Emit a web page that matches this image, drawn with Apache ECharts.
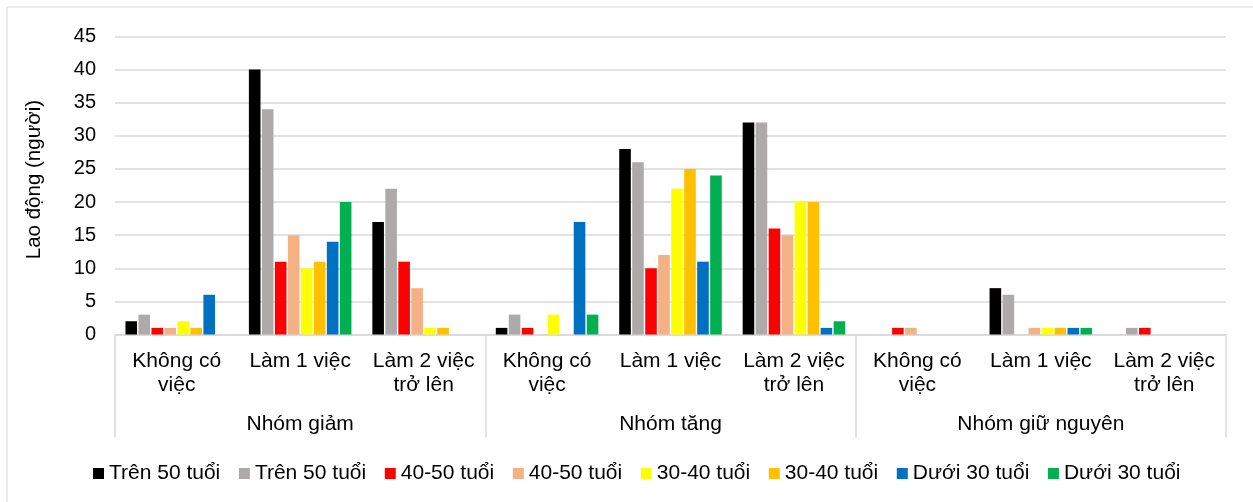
<!DOCTYPE html>
<html>
<head>
<meta charset="utf-8">
<script src="https://cdn.jsdelivr.net/npm/echarts@6/dist/echarts.min.js"></script>
<style>
  html, body { margin: 0; padding: 0; background: #ffffff; }
  #chart { width: 1253px; height: 502px; }
</style>
</head>
<body>
<div id="chart"></div>
<script>
// Work situation categories, repeated inside each change group
const subCategories = [
  'Không có\nviệc', 'Làm 1 việc', 'Làm 2 việc\ntrở lên',
  'Không có\nviệc', 'Làm 1 việc', 'Làm 2 việc\ntrở lên',
  'Không có\nviệc', 'Làm 1 việc', 'Làm 2 việc\ntrở lên'
];
const groups = ['Nhóm giảm', 'Nhóm tăng', 'Nhóm giữ nguyên'];

// Number of workers per age band (two columns per band)
const tren50A = [2, 40, 17, 1, 28, 32, 0, 7, 0];
const tren50B = [3, 34, 22, 3, 26, 32, 0, 6, 1];
const t4050A  = [1, 11, 11, 1, 10, 16, 1, 0, 1];
const t4050B  = [1, 15, 7, 0, 12, 15, 1, 1, 0];
const t3040A  = [2, 10, 1, 3, 22, 20, 0, 1, 0];
const t3040B  = [1, 11, 1, 0, 25, 20, 0, 1, 0];
const duoi30A = [6, 14, 0, 17, 11, 1, 0, 1, 0];
const duoi30B = [0, 20, 0, 3, 24, 2, 0, 1, 0];

const yTicks = { min: 0, max: 45, interval: 5 };

const seriesDefs = [
  { name: 'Trên 50 tuổi', data: tren50A, color: '#000000' },
  { name: 'Trên 50 tuổi ', data: tren50B, color: '#AEAAAA' },
  { name: '40-50 tuổi', data: t4050A, color: '#FF0000' },
  { name: '40-50 tuổi ', data: t4050B, color: '#F4B183' },
  { name: '30-40 tuổi', data: t3040A, color: '#FFFF00' },
  { name: '30-40 tuổi ', data: t3040B, color: '#FFC000' },
  { name: 'Dưới 30 tuổi', data: duoi30A, color: '#0070C0' },
  { name: 'Dưới 30 tuổi ', data: duoi30B, color: '#00B050' }
];

const FONT = '"Liberation Sans", Arial, sans-serif';
const gridLeft = 115, gridRight = 1226, gridTop = 36.5, gridBottom = 334.5;

const chart = echarts.init(document.getElementById('chart'), null, { renderer: 'canvas' });

chart.setOption({
  animation: false,
  backgroundColor: '#ffffff',
  textStyle: { fontFamily: FONT },
  graphic: [{
    type: 'rect',
    shape: { x: 7, y: 7, width: 1270, height: 520 },
    style: { fill: 'none', stroke: '#d9d9d9', lineWidth: 1 },
    silent: true
  }],
  legend: {
    left: 88,
    top: 458,
    itemWidth: 11,
    itemHeight: 11,
    itemGap: 18.6,
    icon: 'rect',
    textStyle: { fontFamily: FONT, fontSize: 21, color: '#000000' },
    data: seriesDefs.map(s => s.name),
    formatter: n => n.trim()
  },
  grid: {
    left: gridLeft,
    top: gridTop,
    width: gridRight - gridLeft,
    height: gridBottom - gridTop,
    containLabel: false
  },
  xAxis: [
    {
      type: 'category',
      data: subCategories,
      position: 'bottom',
      axisLine: { show: true, lineStyle: { color: '#d9d9d9', width: 1.5 } },
      axisTick: { show: false },
      axisLabel: {
        interval: 0,
        margin: 15,
        fontFamily: FONT,
        fontSize: 21,
        lineHeight: 24,
        color: '#000000',
        align: 'center'
      },
      splitLine: { show: false }
    },
    {
      type: 'category',
      data: groups,
      position: 'bottom',
      offset: 0,
      axisLine: { show: false },
      axisTick: { show: true, interval: 0, length: 103, lineStyle: { color: '#d9d9d9', width: 1.5 } },
      axisLabel: {
        interval: 0,
        margin: 78,
        fontFamily: FONT,
        fontSize: 21,
        lineHeight: 24,
        color: '#000000'
      },
      splitLine: { show: false }
    }
  ],
  yAxis: {
    type: 'value',
    min: yTicks.min,
    max: yTicks.max,
    interval: yTicks.interval,
    name: 'Lao động (người)',
    nameLocation: 'middle',
    nameGap: 70,
    nameTextStyle: { fontFamily: FONT, fontSize: 20.5, color: '#000000', padding: [0, 0, 0, 12] },
    axisLine: { show: false },
    axisTick: { show: false },
    axisLabel: { margin: 19, fontFamily: FONT, fontSize: 20, color: '#000000' },
    splitLine: { lineStyle: { color: '#d9d9d9', width: 1.5 } }
  },
  series: seriesDefs.map(s => ({
    name: s.name,
    type: 'bar',
    xAxisIndex: 0,
    data: s.data,
    barWidth: 11.6,
    barGap: '12%',
    itemStyle: { color: s.color },
    emphasis: { disabled: true }
  }))
});
</script>
</body>
</html>
